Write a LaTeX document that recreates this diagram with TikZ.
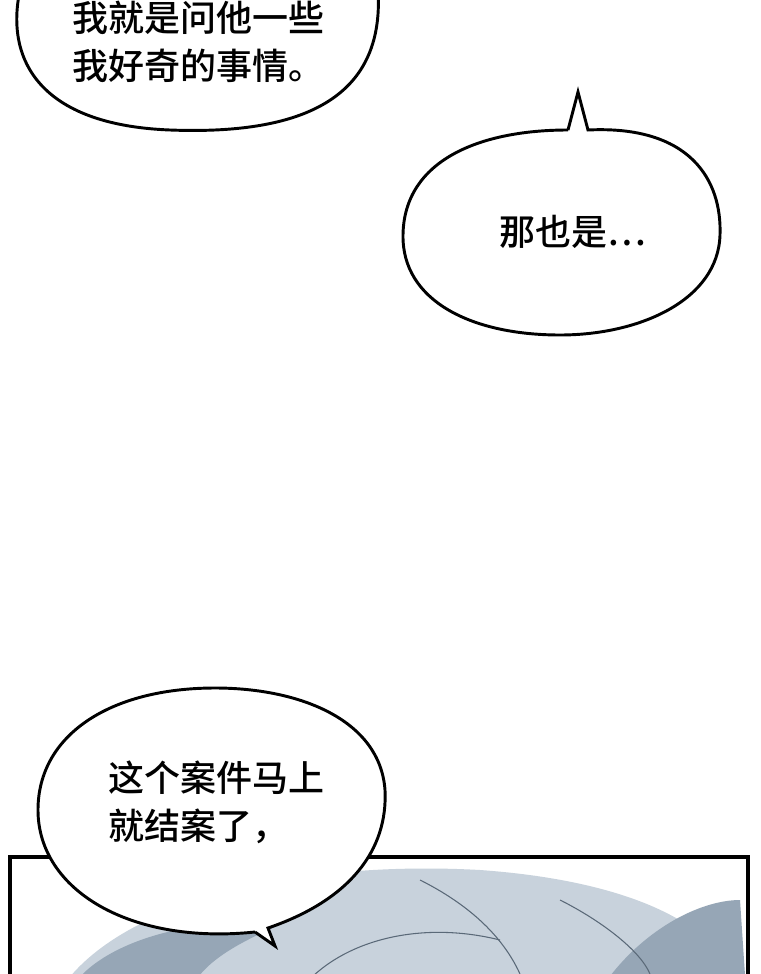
\documentclass[tikz,border=0pt]{standalone}
\usepackage{fontspec}
\newfontfamily\cjk{Noto Sans CJK SC Medium}
\definecolor{hairA}{RGB}{200,210,220}
\definecolor{hairB}{RGB}{150,166,182}
\definecolor{hairL}{RGB}{90,105,120}
\begin{document}
\begin{tikzpicture}[x=0.75pt,y=-0.75pt]
\tikzset{bubble/.style={draw=black,line width=2.2pt,fill=white},
 txt/.style={font=\cjk\fontsize{27}{36}\selectfont,align=left,anchor=west}}
\useasboundingbox (0,0) rectangle (760,974);
% bottom panel
\coordinate (p1) at (10,857);
\coordinate (p2) at (748,980);
\fill[white] (p1) rectangle (p2);
\begin{scope}
\clip (12,859) rectangle (746,974);
\fill[hairA] (60,990) .. controls (120,900) and (300,860) .. (480,870) .. controls (620,880) and (720,920) .. (740,990) -- cycle;
\fill[hairB] (70,990) .. controls (100,940) and (200,915) .. (280,925) .. controls (220,950) and (200,970) .. (190,990) -- cycle;
\fill[hairB] (600,990) .. controls (640,930) and (700,900) .. (740,900) -- (746,990) -- cycle;
\draw[hairL,line width=0.8pt] (300,990) .. controls (340,940) and (420,920) .. (500,940);
\draw[hairL,line width=0.8pt] (420,880) .. controls (460,900) and (500,930) .. (520,974);
\draw[hairL,line width=0.8pt] (560,900) .. controls (600,920) and (640,950) .. (650,974);
\end{scope}
\draw[black,line width=2.5pt] (10,980) -- (p1) -- (748,857) -- (748,980);
% bubble 1
\draw[bubble] (20,-10) .. controls (5,60) and (40,125) .. (170,130) .. controls (300,135) and (385,100) .. (378,-10);
\node[txt] (t1) at (68,42) {我就是问他一些\\我好奇的事情。};
% bubble 2
\coordinate (tip2) at (578,92);
\draw[bubble] (568,130) -- (tip2) -- (588,130) .. controls (690,125) and (722,180) .. (720,235)
 .. controls (718,300) and (640,335) .. (560,335) .. controls (470,335) and (402,300) .. (403,235)
 .. controls (404,160) and (480,130) .. (568,130);
\node[txt] (t2) at (495,232) {那也是…};
% bubble 3
\coordinate (tip3) at (275,946);
\draw[bubble] (255,932) -- (tip3) -- (268,928) .. controls (350,900) and (388,850) .. (385,790)
 .. controls (380,720) and (300,688) .. (215,688) .. controls (110,688) and (38,735) .. (38,810)
 .. controls (38,890) and (130,945) .. (255,932);
\node[txt] (t3) at (104,802) {这个案件马上\\就结案了，};
\end{tikzpicture}
\end{document}
